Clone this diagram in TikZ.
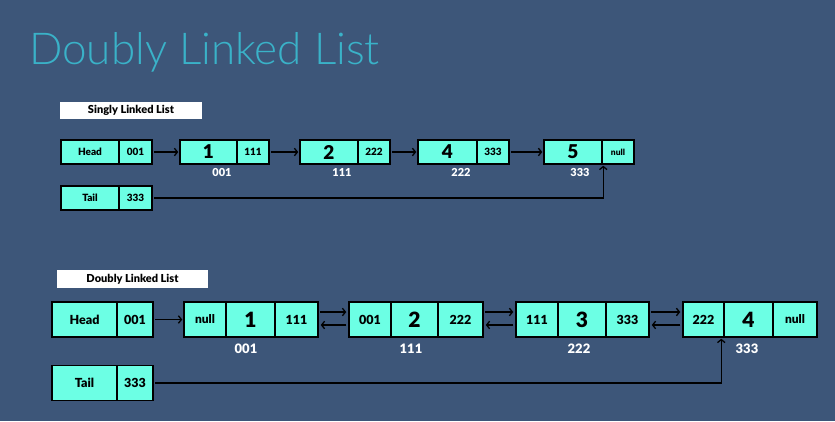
\documentclass[tikz,border=0pt]{standalone}
\usepackage{fontspec}
\setmainfont{Lato}
\newfontfamily\titlefont{Lato Light}
\newfontfamily\heavyfont{Lato Black}
\usetikzlibrary{arrows.meta}
\definecolor{bgc}{RGB}{61,86,121}
\definecolor{titlec}{RGB}{58,178,200}
\definecolor{cellc}{RGB}{108,255,228}
\begin{document}
\begin{tikzpicture}[x=1pt,y=-1pt,
  cell/.style={draw=black, line width=1.5pt, fill=cellc, inner sep=0pt, text=black},
  scell/.style={cell, minimum height=24pt},
  dcell/.style={cell, minimum height=35pt},
  sbig/.style={font=\heavyfont\fontsize{19}{19}\selectfont},
  ssmall/.style={font=\heavyfont\fontsize{10}{10}\selectfont},
  snull/.style={font=\heavyfont\fontsize{8.5}{8.5}\selectfont},
  dbig/.style={font=\heavyfont\fontsize{21}{21}\selectfont},
  dsmall/.style={font=\heavyfont\fontsize{12.5}{12.5}\selectfont},
  dnull/.style={font=\heavyfont\fontsize{12}{12}\selectfont},
  slab/.style={text=white, inner sep=0pt, font=\heavyfont\fontsize{11}{11}\selectfont},
  dlab/.style={text=white, inner sep=0pt, font=\heavyfont\fontsize{13}{13}\selectfont},
  tag/.style={fill=white, inner sep=0pt, text=black, font=\heavyfont\fontsize{11}{11}\selectfont},
  arr/.style={-{Straight Barb[length=3pt,width=7.5pt]}, line width=1.3pt, black}]
\fill[bgc] (0,0) rectangle (835,421);
\useasboundingbox (0,0) rectangle (835,421);
% title
\node[anchor=base west, inner sep=0pt, text=titlec, font=\titlefont\fontsize{44}{44}\selectfont] (title) at (29,64) {Doubly Linked List};
% singly
\node[tag, minimum width=142pt, minimum height=17pt] (stag) at (131,110.5) {Singly Linked List};
\node[scell, ssmall, minimum width=58pt] (sh1) at (90,152) {Head};
\node[scell, ssmall, minimum width=33pt] (sh2) at (135.5,152) {001};
\node[scell, sbig, minimum width=57pt] (s1a) at (208.5,152) {1};
\node[scell, ssmall, minimum width=32pt] (s1b) at (253,152) {111};
\node[scell, sbig, minimum width=58pt] (s2a) at (329,152) {2};
\node[scell, ssmall, minimum width=32pt] (s2b) at (374,152) {222};
\node[scell, sbig, minimum width=59pt] (s4a) at (447.5,152) {4};
\node[scell, ssmall, minimum width=32pt] (s4b) at (493,152) {333};
\node[scell, sbig, minimum width=58pt] (s5a) at (573,152) {5};
\node[scell, snull, minimum width=32pt] (s5b) at (618,152) {null};
\node[scell, ssmall, minimum width=58pt] (st1) at (90,198) {Tail};
\node[scell, ssmall, minimum width=33pt] (st2) at (135.5,198) {333};
\node[slab] (sl1) at (222,172.5) {001};
\node[slab] (sl2) at (342,172.5) {111};
\node[slab] (sl4) at (461,172.5) {222};
\node[slab] (sl5) at (580,172.5) {333};
\draw[arr, shorten <=1pt, shorten >=1pt] (sh2.east) -- (s1a.west);
\draw[arr, shorten <=1pt, shorten >=1pt] (s1b.east) -- (s2a.west);
\draw[arr, shorten <=1pt, shorten >=1pt] (s2b.east) -- (s4a.west);
\draw[arr, shorten <=1pt, shorten >=1pt] (s4b.east) -- (s5a.west);
\draw[arr, shorten <=1pt, shorten >=1pt] (st2.east) -| ([xshift=2pt]s5b.south west);
% doubly
\node[tag, minimum width=151pt, minimum height=18pt] (dtag) at (132.5,279) {Doubly Linked List};
\node[dcell, dsmall, minimum width=65pt] (dh1) at (84.5,319.5) {Head};
\node[dcell, dsmall, minimum width=36pt] (dh2) at (135,319.5) {001};
\node[dcell, dnull, minimum width=42pt] (d1a) at (205,319.5) {null};
\node[dcell, dbig, minimum width=49pt] (d1b) at (250.5,319.5) {1};
\node[dcell, dsmall, minimum width=43pt] (d1c) at (296.5,319.5) {111};
\node[dcell, dsmall, minimum width=42pt] (d2a) at (370,319.5) {001};
\node[dcell, dbig, minimum width=47pt] (d2b) at (414.5,319.5) {2};
\node[dcell, dsmall, minimum width=45pt] (d2c) at (460.5,319.5) {222};
\node[dcell, dsmall, minimum width=42pt] (d3a) at (537,319.5) {111};
\node[dcell, dbig, minimum width=48pt] (d3b) at (582,319.5) {3};
\node[dcell, dsmall, minimum width=43pt] (d3c) at (627.5,319.5) {333};
\node[dcell, dsmall, minimum width=41pt] (d4a) at (703.5,319.5) {222};
\node[dcell, dbig, minimum width=49pt] (d4b) at (748.5,319.5) {4};
\node[dcell, dnull, minimum width=44pt] (d4c) at (795,319.5) {null};
\node[dcell, dsmall, minimum width=65pt] (dt1) at (84.5,383) {Tail};
\node[dcell, dsmall, minimum width=36pt] (dt2) at (135,383) {333};
\node[dlab] (dl1) at (246,348.5) {001};
\node[dlab] (dl2) at (411,348.5) {111};
\node[dlab] (dl3) at (579,348.5) {222};
\node[dlab] (dl4) at (747,348.5) {333};
\draw[arr, shorten <=1.5pt, shorten >=1pt] (dh2.east) -- (d1a.west);
\draw[arr, shorten <=1pt, shorten >=2pt] ([yshift=7.5pt]d1c.east) -- ([yshift=7.5pt]d2a.west);
\draw[arr, shorten <=2pt, shorten >=2pt] ([yshift=-5.5pt]d2a.west) -- ([yshift=-5.5pt]d1c.east);
\draw[arr, shorten <=1pt, shorten >=2pt] ([yshift=7.5pt]d2c.east) -- ([yshift=7.5pt]d3a.west);
\draw[arr, shorten <=2pt, shorten >=2pt] ([yshift=-5.5pt]d3a.west) -- ([yshift=-5.5pt]d2c.east);
\draw[arr, shorten <=1pt, shorten >=2pt] ([yshift=7.5pt]d3c.east) -- ([yshift=7.5pt]d4a.west);
\draw[arr, shorten <=2pt, shorten >=2pt] ([yshift=-5.5pt]d4a.west) -- ([yshift=-5.5pt]d3c.east);
\draw[arr, shorten <=1.5pt, shorten >=1pt] (dt2.east) -| ([xshift=-2pt]d4b.south west);
\end{tikzpicture}
\end{document}
